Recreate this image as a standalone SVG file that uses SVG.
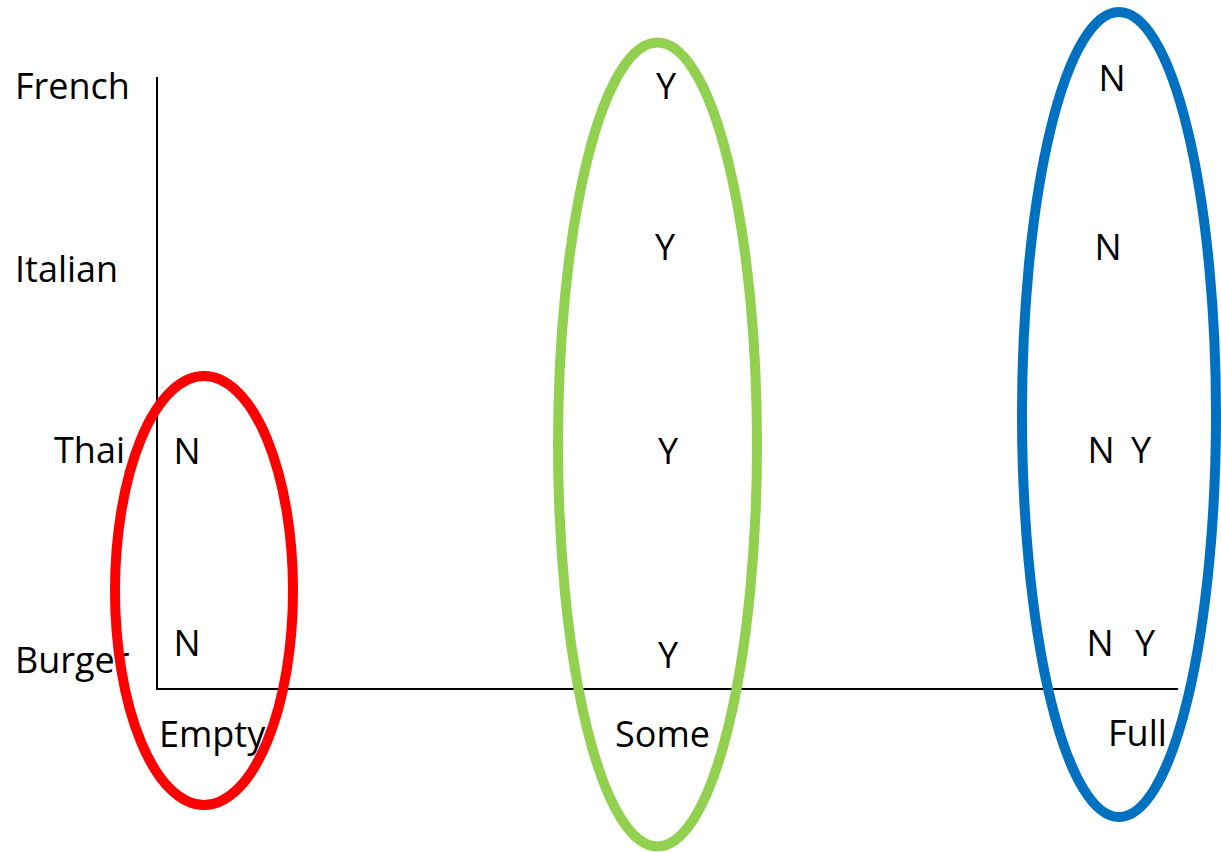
<svg xmlns="http://www.w3.org/2000/svg" width="1221" height="852" viewBox="0 0 1221 852">
  <style>
    text { font-family: "Open Sans", "Liberation Sans", sans-serif; font-size: 36px; fill: #000; }
    .m { text-anchor: middle; }
    .axis { stroke: #000; stroke-width: 2; fill: none; }
    .ring { fill: none; stroke-width: 10; }
  </style>
  <rect width="1221" height="852" fill="#fff"/>
  <g id="axes">
    <line class="axis" x1="157" y1="77" x2="157" y2="690"/>
    <line class="axis" x1="156" y1="689" x2="1178" y2="689"/>
  </g>
  <g id="y-labels">
    <text x="15" y="99">French</text>
    <text x="15" y="282">Italian</text>
    <text x="54" y="463">Thai</text>
    <text x="15" y="673">Burger</text>
  </g>
  <g id="x-labels">
    <text x="159" y="747">Empty</text>
    <text x="615" y="747">Some</text>
    <text x="1108" y="746">Full</text>
  </g>
  <g id="values">
    <text class="m" x="187" y="464">N</text>
    <text class="m" x="187" y="656">N</text>
    <text class="m" x="666" y="99">Y</text>
    <text class="m" x="665" y="260">Y</text>
    <text class="m" x="668" y="464">Y</text>
    <text class="m" x="668" y="668">Y</text>
    <text class="m" x="1112" y="91">N</text>
    <text class="m" x="1108" y="260">N</text>
    <text class="m" x="1101" y="463">N</text>
    <text class="m" x="1141" y="463">Y</text>
    <text class="m" x="1100" y="656">N</text>
    <text class="m" x="1145" y="656">Y</text>
  </g>
  <g id="empty-group">
    <ellipse class="ring" cx="204" cy="590.5" rx="89" ry="214.5" stroke="#FF0000"/>
  </g>
  <g id="some-group">
    <ellipse class="ring" cx="657.5" cy="444.5" rx="99.5" ry="402" stroke="#92D050"/>
  </g>
  <g id="full-group">
    <ellipse class="ring" cx="1119" cy="414.5" rx="97" ry="402.5" stroke="#0070C0"/>
  </g>
</svg>
